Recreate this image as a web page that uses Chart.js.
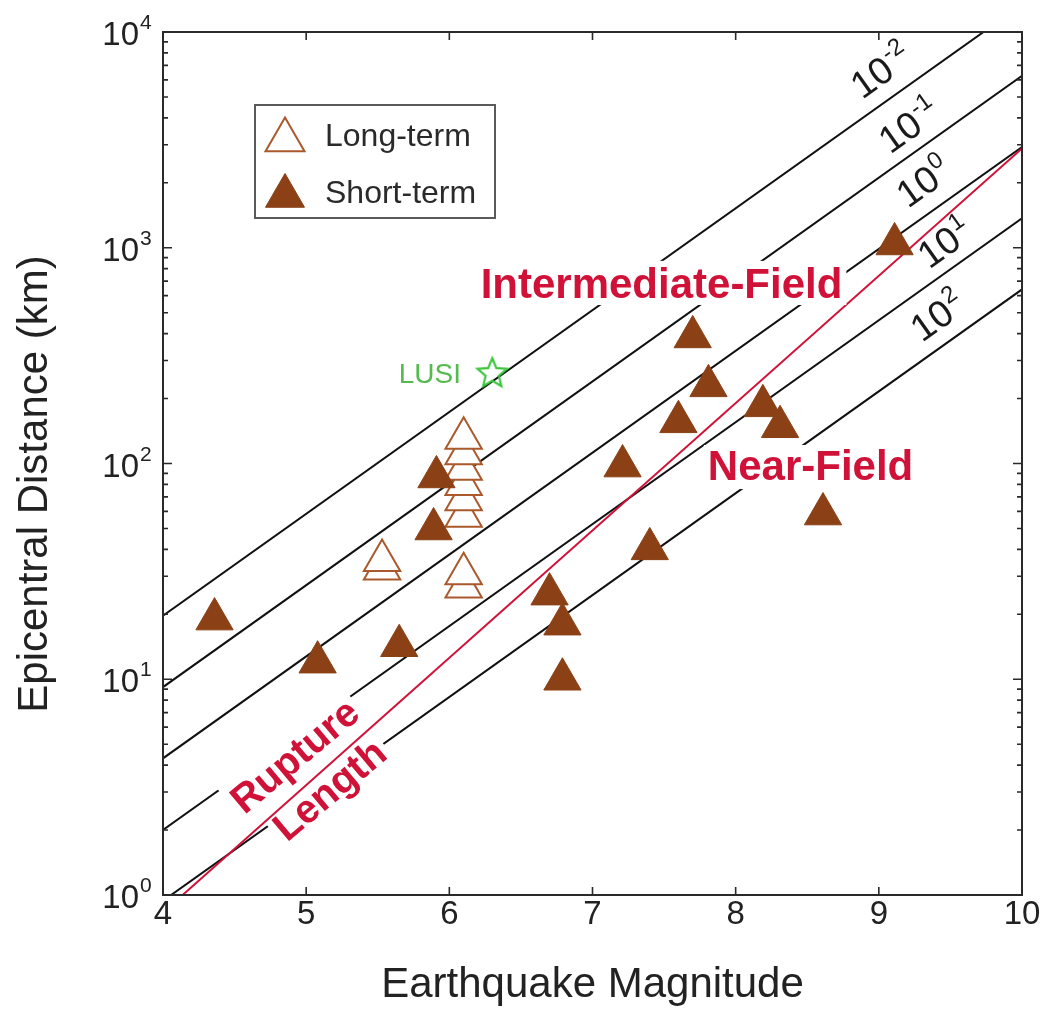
<!DOCTYPE html>
<html><head><meta charset="utf-8">
<script src="https://cdn.jsdelivr.net/npm/chart.js@4.4.1/dist/chart.umd.min.js"></script>
<style>html,body{margin:0;padding:0;background:#fff}#wrap{width:1047px;height:1016px;position:relative}</style>
</head><body><div id="wrap"><canvas id="c"></canvas></div>
<script>
const FONT = '"Liberation Sans", Arial, Helvetica, sans-serif';

// ---- data ----
const shortTermMag  = [4.36, 5.08, 5.65, 5.91, 5.89, 7.21, 7.70, 7.81, 7.60, 8.19, 8.31, 9.11, 7.40, 6.70, 6.79, 6.79, 8.61];
const shortTermDist = [19.0, 12.0, 14.3, 86.6, 49.7, 97.3, 386, 229, 156, 185, 148, 1041, 40.2, 24.8, 18.0, 10.0, 58.3];
const longTermMag   = [5.53, 5.53, 6.10, 6.10, 6.10, 6.10, 6.10, 6.10, 6.10, 6.10];
const longTermDist  = [32.4, 35.5, 26.8, 30.8, 57, 68, 80, 94, 111, 131];
const lusiMag  = [6.30];
const lusiDist = [265];
const energyExp   = [-2, -1, 0, 1, 2];            // seismic energy density contours (J/m^3)
const contourMag  = [4, 10];
const contourDist = [[19.7, 13400], [9.2, 6270], [4.3, 2930], [2.0, 1370], [0.94, 641]];
const ruptureMag  = [4, 10];
const ruptureDist = [0.83, 2884];
const xTicks   = [4, 5, 6, 7, 8, 9, 10];
const yTickExp = [0, 1, 2, 3, 4];

// ---- annotation placement (data coordinates) ----
const contourLabelAt = [[8.951, 6180], [9.147, 3440], [9.272, 1932], [9.419, 1008], [9.370, 462]];

const BROWN = '#8B4016', BROWN_L = '#A9592B', RED = '#d01238', GREEN = '#3cc43c';

function pts(xs, ys) { return xs.map((x, i) => ({x, y: ys[i]})); }

function makeStar(size, color) {
  const c = document.createElement('canvas'); c.width = c.height = size;
  const g = c.getContext('2d'); g.strokeStyle = color; g.lineWidth = 2.2; g.lineJoin = 'miter';
  const cx = size / 2, cy = size / 2 + 1.5, R = size / 2 - 2.5, r = R * 0.45;
  g.beginPath();
  for (let i = 0; i < 10; i++) {
    const a = -Math.PI / 2 + i * Math.PI / 5, rr = i % 2 ? r : R;
    g.lineTo(cx + rr * Math.cos(a), cy + rr * Math.sin(a));
  }
  g.closePath(); g.stroke();
  return c;
}

const datasets = [];
energyExp.forEach((e, i) => datasets.push({
  label: 'e=1e' + e, data: pts(contourMag, contourDist[i]), showLine: true, pointRadius: 0,
  borderColor: '#111', borderWidth: 2, order: 10
}));
datasets.push({label: 'Rupture Length', data: pts(ruptureMag, ruptureDist), showLine: true, pointRadius: 0,
  borderColor: RED, borderWidth: 2, order: 9});
datasets.push({label: 'Long-term', data: pts(longTermMag, longTermDist), pointStyle: 'triangle', pointRadius: 21,
  backgroundColor: '#ffffff', borderColor: BROWN_L, borderWidth: 2, order: 5});
datasets.push({label: 'Short-term', data: pts(shortTermMag, shortTermDist), pointStyle: 'triangle', pointRadius: 21.5,
  backgroundColor: BROWN, borderColor: BROWN, borderWidth: 1, order: 3});
datasets.push({label: 'LUSI', data: pts(lusiMag, lusiDist), pointStyle: makeStar(36, GREEN), pointRadius: 18, order: 1});

function triPath(ctx, x, y, r) {
  ctx.beginPath();
  ctx.moveTo(x, y - r);
  ctx.lineTo(x + 0.866 * r, y + 0.5 * r);
  ctx.lineTo(x - 0.866 * r, y + 0.5 * r);
  ctx.closePath();
}

function boxedText(ctx, text, cx, cy, ang, size, color, padTop, padBot, padX) {
  ctx.save();
  ctx.translate(cx, cy); ctx.rotate(-ang * Math.PI / 180);
  ctx.font = 'bold ' + size + 'px ' + FONT;
  const w = ctx.measureText(text).width, cap = 0.716 * size, base = cap / 2;
  ctx.fillStyle = '#fff';
  ctx.fillRect(-w / 2 - padX, base - cap - padTop, w + 2 * padX, cap + padTop + padBot);
  ctx.fillStyle = color; ctx.textAlign = 'center'; ctx.textBaseline = 'alphabetic';
  ctx.fillText(text, 0, base);
  ctx.restore();
}

const overlay = {
  id: 'overlay',
  afterDatasetsDraw(chart) {
    const ctx = chart.ctx, xs = chart.scales.x, ys = chart.scales.y, A = chart.chartArea;
    const P = (m, v) => [xs.getPixelForValue(m), ys.getPixelForValue(v)];
    ctx.save();
    ctx.beginPath(); ctx.rect(A.left, A.top, A.right - A.left, A.bottom - A.top); ctx.clip();
    // region labels
    let p = P(7.482, 687); boxedText(ctx, 'Intermediate-Field', p[0], p[1], 0, 42, RED, 7, 7, 4);
    p = P(8.523, 98.4);    boxedText(ctx, 'Near-Field', p[0], p[1], 0, 42, RED, 5, 9, 4);
    p = P(4.915, 4.46);    boxedText(ctx, 'Rupture', p[0], p[1], 40, 40, RED, 10, 2, 4);
    p = P(5.159, 3.10);    boxedText(ctx, 'Length', p[0], p[1], 40, 40, RED, -1, 9, 4);
    // contour labels
    const a0 = P(contourMag[0], contourDist[0][0]), a1 = P(contourMag[1], contourDist[0][1]);
    const ang = Math.atan2(a0[1] - a1[1], a1[0] - a0[0]);
    energyExp.forEach((e, i) => {
      const q = P(contourLabelAt[i][0], contourLabelAt[i][1]);
      ctx.save(); ctx.translate(q[0], q[1]); ctx.rotate(-ang);
      ctx.fillStyle = '#1a1a1a'; ctx.textBaseline = 'alphabetic';
      ctx.font = '38px ' + FONT;
      const w = ctx.measureText('10').width;
      ctx.textAlign = 'center'; ctx.fillText('10', 0, 13);
      ctx.font = '24px ' + FONT; ctx.textAlign = 'left';
      ctx.fillText(String(e).replace('-', '\u2011'), w / 2 + 1, -3);
      ctx.restore();
    });
    // LUSI label
    p = P(6.081, 262.6);
    ctx.font = '28px ' + FONT; ctx.fillStyle = '#55bb4f'; ctx.textAlign = 'right'; ctx.textBaseline = 'alphabetic';
    ctx.fillText('LUSI', p[0], p[1] + 10);
    ctx.restore();
  },
  afterDraw(chart) {
    const ctx = chart.ctx, xs = chart.scales.x, ys = chart.scales.y, A = chart.chartArea;
    ctx.save();
    // axes box
    ctx.strokeStyle = '#2a2a2a'; ctx.lineWidth = 2;
    ctx.strokeRect(A.left, A.top, A.right - A.left, A.bottom - A.top);
    ctx.lineWidth = 1.6; ctx.beginPath();
    xTicks.forEach(v => {
      const x = xs.getPixelForValue(v);
      ctx.moveTo(x, A.bottom); ctx.lineTo(x, A.bottom - 8);
      ctx.moveTo(x, A.top); ctx.lineTo(x, A.top + 8);
    });
    for (let e = yTickExp[0]; e < yTickExp[yTickExp.length - 1]; e++) {
      for (let k = 1; k <= 9; k++) {
        const y = ys.getPixelForValue(k * Math.pow(10, e));
        const L = k === 1 ? 9 : 5;
        ctx.moveTo(A.left, y); ctx.lineTo(A.left + L, y);
        ctx.moveTo(A.right, y); ctx.lineTo(A.right - L, y);
      }
    }
    ctx.stroke();
    // y tick labels 10^k
    ctx.fillStyle = '#222'; ctx.textBaseline = 'alphabetic';
    yTickExp.forEach(e => {
      const y = ys.getPixelForValue(Math.pow(10, e));
      ctx.font = '33px ' + FONT; ctx.textAlign = 'right';
      ctx.fillText('10', 139, y + 13);
      ctx.font = '21px ' + FONT; ctx.textAlign = 'left';
      ctx.fillText(String(e), 140, y - 3);
    });
    // y axis title
    ctx.save();
    ctx.translate(35, 484); ctx.rotate(-Math.PI / 2);
    ctx.font = '42px ' + FONT; ctx.fillStyle = '#222'; ctx.textAlign = 'center'; ctx.textBaseline = 'middle';
    ctx.fillText('Epicentral Distance (km)', 0, 0);
    ctx.restore();
    // legend
    ctx.fillStyle = '#fff'; ctx.fillRect(255, 105, 240, 113);
    ctx.strokeStyle = '#5a5a5a'; ctx.lineWidth = 2; ctx.strokeRect(255, 105, 240, 113);
    triPath(ctx, 285, 140, 22.5); ctx.fillStyle = '#fff'; ctx.fill(); ctx.strokeStyle = BROWN_L; ctx.lineWidth = 2; ctx.stroke();
    triPath(ctx, 285, 196, 22.5); ctx.fillStyle = BROWN; ctx.fill(); ctx.strokeStyle = BROWN; ctx.lineWidth = 1; ctx.stroke();
    ctx.fillStyle = '#2a2a2a'; ctx.font = '32px ' + FONT; ctx.textAlign = 'left';
    ctx.fillText('Long-term', 325, 146);
    ctx.fillText('Short-term', 325, 203);
    ctx.restore();
  }
};

new Chart(document.getElementById('c'), {
  type: 'scatter',
  data: {datasets},
  options: {
    responsive: true, maintainAspectRatio: false, animation: false, events: [],
    layout: {padding: {top: 32, right: 25, bottom: 0, left: 0}},
    plugins: {legend: {display: false}, tooltip: {enabled: false}},
    scales: {
      x: {
        type: 'linear', min: 4, max: 10,
        afterBuildTicks: s => { s.ticks = xTicks.map(v => ({value: v})); },
        ticks: {font: {family: FONT, size: 33}, color: '#222', padding: 0, maxRotation: 0, autoSkip: false},
        grid: {display: false, drawTicks: false}, border: {display: false},
        title: {display: true, text: 'Earthquake Magnitude', color: '#222', padding: 0,
                font: {family: FONT, size: 42, lineHeight: 1.476}},
        afterFit: s => { s.height = 121; }
      },
      y: {
        type: 'logarithmic', min: 1, max: 10000,
        afterBuildTicks: s => { s.ticks = yTickExp.map(e => ({value: Math.pow(10, e)})); },
        ticks: {display: false},
        grid: {display: false, drawTicks: false}, border: {display: false},
        title: {display: false},
        afterFit: s => { s.width = 163; }
      }
    }
  },
  plugins: [overlay]
});
</script></body></html>
